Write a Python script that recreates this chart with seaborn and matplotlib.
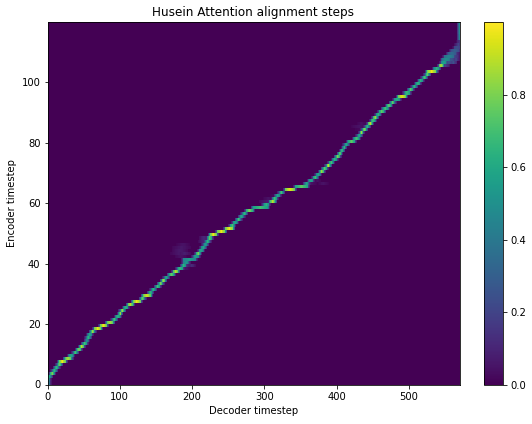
import numpy as np
import matplotlib
matplotlib.use("Agg")
import matplotlib.pyplot as plt
import seaborn as sns

TITLE = "Husein Attention alignment steps"
XLABEL = "Decoder timestep"
YLABEL = "Encoder timestep"
N_DECODER = 570
N_ENCODER = 120
x_ticks = [0, 100, 200, 300, 400, 500]
y_ticks = [0, 20, 40, 60, 80, 100]
cbar_ticks = [0.0, 0.2, 0.4, 0.6, 0.8]

# ridge position on each encoder row (row 0 upward)
ridge_center = [1, 1, 2, 6, 9, 12, 16, 20, 28, 32, 38, 43, 47, 51, 54, 56, 58, 62, 69, 77,
                86, 92, 97, 100, 103, 108, 114, 123, 131, 137, 142, 146, 152, 156, 160, 164, 171, 177, 183, 188,
                191, 196, 205, 208, 212, 215, 218, 221, 224, 229, 240, 251, 255, 259, 264, 268, 272, 279, 294, 302,
                311, 314, 318, 323, 335, 351, 358, 364, 370, 374, 379, 383, 388, 392, 397, 401, 404, 407, 410, 413,
                420, 427, 431, 434, 438, 442, 446, 450, 453, 457, 462, 467, 472, 477, 483, 490, 497, 502, 507, 512,
                516, 521, 525, 531, 538, 544, 548, 551, 555, 559, 563, 566, 568, 569, 569, 569, 569, 569, 569, 569]
# half width of the bright part of each row, in decoder steps
ridge_half = [1, 1, 2, 2, 2, 2, 2, 4, 4, 2, 2, 2, 2, 2, 1, 2, 2, 2, 4, 4,
              4, 2, 2, 1, 2, 2, 3, 5, 2, 5, 2, 2, 2, 2, 2, 2, 3, 3, 3, 2,
              3, 8, 3, 2, 2, 2, 2, 2, 2, 4, 5, 5, 2, 2, 2, 2, 2, 4, 10, 3,
              3, 2, 2, 2, 6, 8, 2, 2, 2, 2, 2, 2, 2, 2, 2, 2, 1, 1, 1, 2,
              4, 3, 2, 1, 2, 2, 2, 2, 2, 2, 3, 3, 2, 2, 3, 5, 3, 2, 2, 2,
              2, 2, 2, 6, 3, 2, 3, 5, 6, 5, 5, 3, 1, 1, 0, 0, 0, 0, 0, 0]
ridge_peak = [.45, .5, .6, .8, .65, .65, .75, .98, .9, .65, .7, .85, .9, .7, .6, .65, .6, .85, .98, .98,
              .9, .7, .7, .85, .85, .7, .9, .98, .75, .95, .65, .65, .7, .8, .85, .6, .75, .9, .7, .65,
              .55, .55, .6, .8, .65, .6, .55, .65, .75, .98, .98, .98, .7, .65, .7, .6, .65, .8, .7, .65,
              .9, .7, .6, .7, .98, .75, .6, .65, .7, .6, .85, .75, .9, .7, .65, .8, .9, .8, .65, .6,
              .75, .7, .6, .85, .8, .65, .9, .75, .85, .65, .75, .7, .8, .75, .65, .98, .7, .75, .65, .7,
              .65, .7, .75, .98, .65, .95, .6, .5, .45, .35, .3, .25, .2, .15, .55, .55, .6, .6, .6, .6]

# faint smears away from the ridge: row, first column, last column, value
smear_row = [38, 39, 39, 42, 43, 43, 44, 45, 46, 47, 48, 60, 60, 61, 62, 66, 66, 67, 84, 85, 86,
             105, 106, 107, 108, 109, 110, 111, 112, 113, 106, 107, 108]
smear_start = [186, 184, 194, 176, 170, 180, 172, 172, 178, 208, 210, 292, 300, 298, 308, 352, 374, 368, 425, 420, 428,
               544, 548, 552, 555, 558, 560, 562, 563, 565, 556, 560, 563]
smear_end = [196, 200, 204, 192, 192, 198, 194, 198, 196, 222, 222, 316, 312, 312, 320, 372, 388, 378, 440, 442, 440,
             556, 562, 565, 568, 569, 569, 569, 569, 569, 566, 569, 569]
smear_value = [.05, .12, .12, .05, .06, .08, .07, .06, .05, .1, .12, .08, .05, .05, .03, .05, .05, .04, .03, .05, .04,
               .2, .28, .28, .26, .22, .2, .17, .15, .1, .25, .22, .2]

matrix = np.zeros((N_ENCODER, N_DECODER))
columns = np.arange(N_DECODER)
for s_r, s_a, s_b, s_v in zip(smear_row, smear_start, smear_end, smear_value):
    taper = np.interp(columns, [s_a, (s_a + s_b) / 2, s_b], [s_v * 0.3, s_v, s_v * 0.3], left=0, right=0)
    matrix[s_r] = np.maximum(matrix[s_r], taper)
for row, (c, h, p) in enumerate(zip(ridge_center, ridge_half, ridge_peak)):
    profile = np.interp(np.abs(columns - c), [0, h, h + 2, h + 4], [p, p * 0.8, p * 0.25, 0.0])
    matrix[row] = np.maximum(matrix[row], profile)

plt.rcParams["font.family"] = "DejaVu Sans"
W, H, DPI = 532, 424, 72
fig = plt.figure(figsize=(W / DPI, H / DPI), dpi=DPI, facecolor="white")
ax = fig.add_axes([47.5 / W, 1 - 384.5 / H, 412 / W, 362.5 / H])
cax = fig.add_axes([484 / W, 1 - 385 / H, 19 / W, 363 / H])

sns.heatmap(matrix, ax=ax, cbar_ax=cax, cmap="viridis", vmin=0, vmax=1.0,
            xticklabels=False, yticklabels=False, rasterized=True)
ax.set_xlim(0, N_DECODER)
ax.set_ylim(0, N_ENCODER)
ax.set_xticks(x_ticks)
ax.set_xticklabels([str(v) for v in x_ticks], rotation=0)
ax.set_yticks(y_ticks)
ax.set_yticklabels([str(v) for v in y_ticks], rotation=0)
ax.tick_params(axis="both", length=3.5, width=0.8, labelsize=10, color="black", left=True, bottom=True)
ax.set_xlabel(XLABEL, fontsize=10, labelpad=4)
ax.set_ylabel(YLABEL, fontsize=10, labelpad=5)
ax.set_title(TITLE, fontsize=12, pad=6)
for spine in ax.spines.values():
    spine.set_visible(True)
    spine.set_linewidth(0.8)
    spine.set_color("black")

cbar = ax.collections[0].colorbar
cbar.set_ticks(cbar_ticks)
cbar.set_ticklabels([f"{v:.1f}" for v in cbar_ticks])
cbar.ax.tick_params(length=3.5, width=0.8, labelsize=10, color="black")
cbar.outline.set_visible(True)
cbar.outline.set_linewidth(0.8)
cbar.outline.set_edgecolor("black")

fig.savefig("out.png", dpi=DPI, facecolor="white")
